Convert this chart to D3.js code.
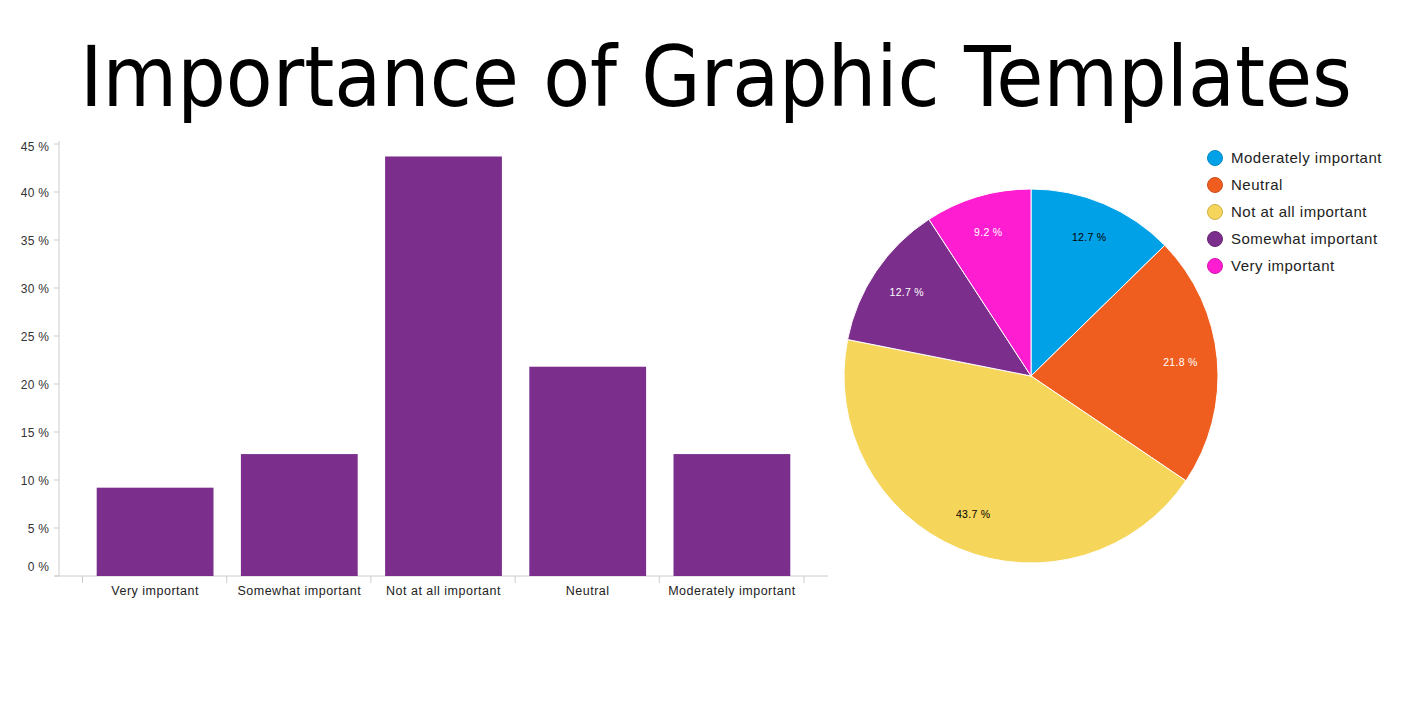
<!DOCTYPE html>
<html>
<head>
<meta charset="utf-8">
<script src="https://cdn.jsdelivr.net/npm/d3@7"></script>
<style>
  body { margin: 0; background: #fff; }
  svg text { font-family: "Liberation Sans", Arial, sans-serif; }
</style>
</head>
<body>
<script>
// bar chart data (percent)
var barCategories = ['Very important', 'Somewhat important', 'Not at all important', 'Neutral', 'Moderately important'];
var barValues = [9.2, 12.7, 43.7, 21.8, 12.7];
var yTicks = [0, 5, 10, 15, 20, 25, 30, 35, 40, 45];

// pie data, clockwise from 12 o'clock
var pieCategories = ['Moderately important', 'Neutral', 'Not at all important', 'Somewhat important', 'Very important'];
var pieValues = [12.7, 21.8, 43.7, 12.7, 9.2];
var pieColors = ['#00a1e6', '#f05e1f', '#f6d55b', '#7b2e8c', '#ff1dd2'];
var pieLabelColors = ['#000', '#fff', '#000', '#fff', '#fff'];

var W = 1427, H = 714;

var svg = d3.select('body').append('svg')
    .attr('width', W)
    .attr('height', H);

svg.append('text')
    .attr('x', 716)
    .attr('y', 106)
    .attr('text-anchor', 'middle')
    .attr('textLength', 1272)
    .attr('lengthAdjust', 'spacingAndGlyphs')
    .style('font-family', '"DejaVu Sans Condensed", "DejaVu Sans", sans-serif')
    .style('font-size', '84px')
    .style('fill', '#000')
    .text('Importance of Graphic Templates');

// ---- bar chart ----
var x = d3.scaleBand()
    .domain(barCategories)
    .range([83, 804])
    .paddingInner(0.19)
    .paddingOuter(0.095);
var y = d3.scaleLinear()
    .domain([0, 45])
    .range([576, 144]);

var bars = svg.append('g');

bars.append('line')
    .attr('x1', 59).attr('x2', 59)
    .attr('y1', 576).attr('y2', 141)
    .attr('stroke', '#ccc');
bars.append('line')
    .attr('x1', 55).attr('x2', 828)
    .attr('y1', 576).attr('y2', 576)
    .attr('stroke', '#ccc');

var yTick = bars.selectAll('.ytick')
    .data(yTicks)
  .enter().append('g')
    .attr('class', 'ytick')
    .attr('transform', function(d) { return 'translate(0,' + y(d) + ')'; });
yTick.append('line')
    .attr('x1', 54).attr('x2', 59)
    .attr('stroke', '#ccc');
yTick.append('text')
    .attr('x', 49)
    .attr('y', function(d) { return d === 0 ? -9 : (d === 45 ? 3 : 1); })
    .attr('dy', '.35em')
    .style('text-anchor', 'end')
    .style('font-size', '12px')
    .style('letter-spacing', '0.2px')
    .style('fill', '#333')
    .text(function(d) { return d + ' %'; });

// category separators
var step = x.step();
var sep = barCategories.map(function(c) { return x(c) - x.paddingInner() * step / 2 - 0.5; });
sep.push(x(barCategories[barCategories.length - 1]) + x.bandwidth() + x.paddingInner() * step / 2);
bars.selectAll('.xsep')
    .data(sep)
  .enter().append('line')
    .attr('class', 'xsep')
    .attr('x1', function(d) { return d; })
    .attr('x2', function(d) { return d; })
    .attr('y1', 576).attr('y2', 583)
    .attr('stroke', '#ccc');

bars.selectAll('.bar')
    .data(barValues)
  .enter().append('rect')
    .attr('class', 'bar')
    .attr('x', function(d, i) { return x(barCategories[i]); })
    .attr('width', x.bandwidth())
    .attr('y', function(d) { return y(d); })
    .attr('height', function(d) { return y(0) - y(d); })
    .style('fill', '#7b2e8c');

bars.selectAll('.xlabel')
    .data(barCategories)
  .enter().append('text')
    .attr('class', 'xlabel')
    .attr('x', function(d) { return x(d) + x.bandwidth() / 2; })
    .attr('y', 595)
    .style('text-anchor', 'middle')
    .style('font-size', '12.5px')
    .style('letter-spacing', '0.5px')
    .style('fill', '#222')
    .text(function(d) { return d; });

// ---- pie chart ----
var cx = 1031, cy = 376, r = 187;
var pie = d3.pie().sort(null).value(function(d) { return d; });
var arc = d3.arc().innerRadius(0).outerRadius(r);
var labelArc = d3.arc().innerRadius(150).outerRadius(150);
var arcs = pie(pieValues);

var pg = svg.append('g')
    .attr('transform', 'translate(' + cx + ',' + cy + ')');
pg.selectAll('path')
    .data(arcs)
  .enter().append('path')
    .attr('d', arc)
    .style('fill', function(d, i) { return pieColors[i]; })
    .style('stroke', '#fff')
    .style('stroke-width', 1);
pg.selectAll('.plabel')
    .data(arcs)
  .enter().append('text')
    .attr('class', 'plabel')
    .attr('transform', function(d) { return 'translate(' + labelArc.centroid(d) + ')'; })
    .attr('dy', '.35em')
    .style('text-anchor', 'middle')
    .style('font-size', '10.5px')
    .style('letter-spacing', '0.3px')
    .style('fill', function(d, i) { return pieLabelColors[i]; })
    .text(function(d) { return d.value.toFixed(1) + ' %'; });

// legend
var legend = svg.selectAll('.legend')
    .data(pieCategories)
  .enter().append('g')
    .attr('class', 'legend')
    .attr('transform', function(d, i) { return 'translate(1215,' + (158 + i * 27) + ')'; });
legend.append('circle')
    .attr('r', 7.5)
    .style('fill', function(d, i) { return pieColors[i]; })
    .style('stroke', function(d, i) { return d3.color(pieColors[i]).darker(0.5); })
    .style('stroke-width', 1);
legend.append('text')
    .attr('x', 16)
    .attr('dy', '.35em')
    .style('font-size', '15px')
    .style('letter-spacing', '0.5px')
    .style('fill', '#222')
    .text(function(d) { return d; });
</script>
</body>
</html>
